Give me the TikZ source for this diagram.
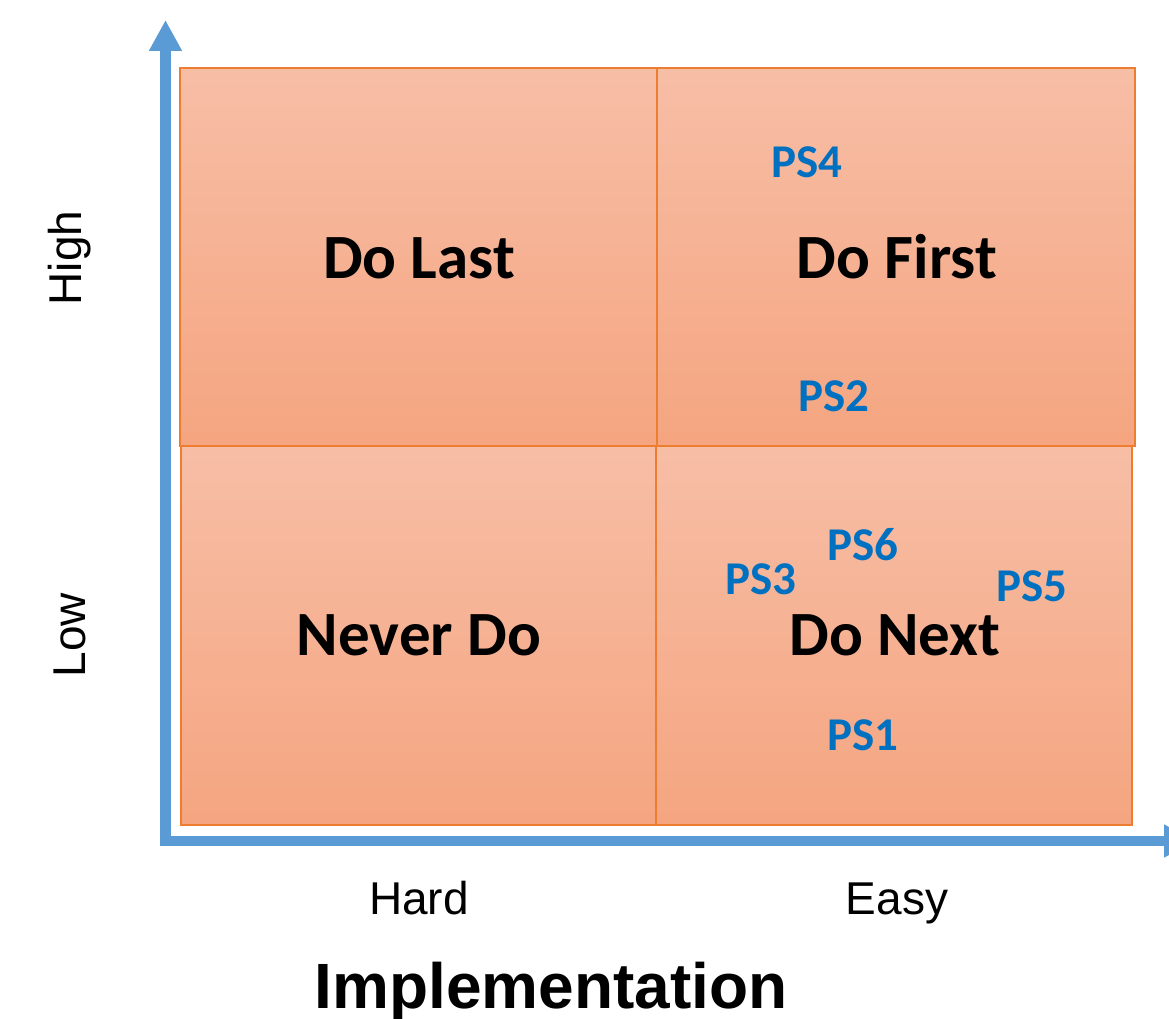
\documentclass[tikz,border=0pt]{standalone}
\usepackage{fontspec}
\setmainfont{Liberation Sans}
\newfontfamily\calfont{Carlito}
\usetikzlibrary{arrows.meta}

\definecolor{quadtop}{RGB}{247,190,166}
\definecolor{quadbot}{RGB}{245,165,128}
\definecolor{quadline}{RGB}{237,125,49}
\definecolor{axisblue}{RGB}{91,155,213}
\definecolor{psblue}{RGB}{0,112,192}

\tikzset{
    quad/.style={draw=quadline, line width=1.2pt, top color=quadtop, bottom color=quadbot, inner sep=0pt},
    quadlabel/.style={anchor=base, font=\calfont\bfseries\fontsize{63}{63}\selectfont},
    psitem/.style={text=psblue, font=\calfont\bfseries\fontsize{47}{47}\selectfont},
    ticklabel/.style={font=\fontsize{46}{46}\selectfont},
    axis/.style={draw=axisblue, line width=10.5pt, line join=miter,
        {Triangle[width=31pt,length=31pt]}-{Triangle[width=31pt,length=31pt]}}
}

\begin{document}
\begin{tikzpicture}[x=1pt, y=-1pt]
    \useasboundingbox (0,0) rectangle (1169,1019);
    % quadrants
    \node[quad, minimum width=477pt, minimum height=378pt] (dolast) at (418.5,257) {};
    \node[quad, minimum width=478pt, minimum height=378pt] (dofirst) at (896,257) {};
    \node[quad, minimum width=475pt, minimum height=379pt] (neverdo) at (418.5,635.5) {};
    \node[quad, minimum width=476pt, minimum height=379pt] (donext) at (894,635.5) {};
    \node[quadlabel] (lastlbl) at (419,278) {Do Last};
    \node[quadlabel] (firstlbl) at (897,278) {Do First};
    \node[quadlabel] (neverlbl) at (419,655) {Never Do};
    \node[quadlabel] (nextlbl) at (895,655) {Do Next};
    % problem statements
    \node[psitem] (ps4) at (807,162) {PS4};
    \node[psitem] (ps2) at (834,396) {PS2};
    \node[psitem] (ps6) at (863,545) {PS6};
    \node[psitem] (ps3) at (761,579) {PS3};
    \node[psitem] (ps5) at (1032,586) {PS5};
    \node[psitem] (ps1) at (863,735) {PS1};
    % axes
    \coordinate (ytip) at (165.5,20);
    \coordinate (corner) at (165.5,841);
    \coordinate (xtip) at (1195,841);
    \draw[axis] (ytip) -- (corner) -- (xtip);
    % axis labels
    \node[ticklabel, anchor=base] (hard) at (419,914) {Hard};
    \node[ticklabel, anchor=base] (easy) at (897,914) {Easy};
    \node[ticklabel, rotate=90] (high) at (70,258) {High};
    \node[ticklabel, rotate=90] (low) at (70,635) {Low};
    \node[anchor=base, font=\bfseries\fontsize{64}{64}\selectfont] (impl) at (551,1008) {Implementation};
\end{tikzpicture}
\end{document}
